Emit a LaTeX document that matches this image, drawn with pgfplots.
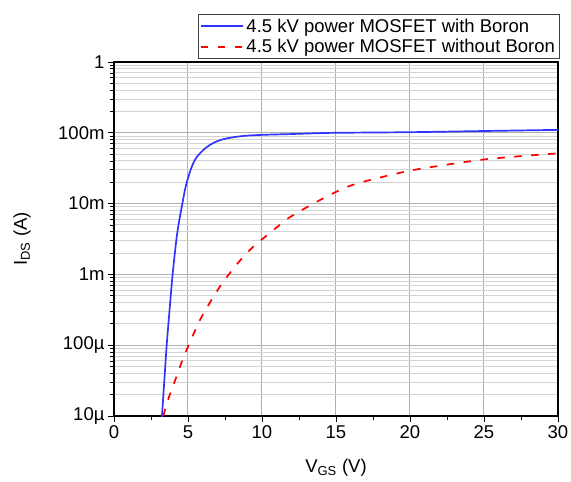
\documentclass[border=0pt]{standalone}
\usepackage{pgfplots}
\pgfplotsset{compat=1.18}
\usepackage{fontspec}
\setmainfont{Liberation Sans}

\definecolor{curveblue}{RGB}{51,51,255}
\definecolor{gridmaj}{RGB}{175,175,175}
\definecolor{gridmin}{RGB}{212,212,212}

\begin{document}
\begin{tikzpicture}
\begin{axis}[
  name=ax,
  scale only axis,
  width=444pt, height=354pt,
  font=\fontsize{18.5}{21}\selectfont,
  ymode=log,
  xmin=0, xmax=30,
  ymin=1e-5, ymax=1,
  xtick={0,5,...,30},
  minor x tick num=1,
  ytick={1e-5,1e-4,1e-3,1e-2,1e-1,1},
  yticklabels={10µ,100µ,1m,10m,100m,1},
  /pgf/number format/assume math mode=true,
  xtick pos=bottom, ytick pos=left,
  tick align=outside,
  major tick length=6pt, minor tick length=3.5pt,
  tick style={black, line width=0.8pt},
  axis line style={black, line width=1.1pt},
  xmajorgrids, ymajorgrids, yminorgrids,
  major grid style={gridmaj, line width=1pt},
  minor grid style={gridmin, line width=1pt},
  xlabel={V\textsubscript{GS} (V)},
  ylabel={I\textsubscript{DS} (A)},
  xlabel style={at={(axis description cs:0.5,-0.145)}, anchor=center},
  ylabel style={at={(axis description cs:-0.207,0.5)}, anchor=center},
  legend cell align=left,
  legend image code/.code={\draw[#1] (0pt,0pt) -- (42pt,0pt);},
  legend style={
    at={(axis description cs:1.003,1.009)}, anchor=south east,
    draw=black!75, line width=0.8pt, inner sep=1pt,
    font=\fontsize{18.5}{21}\selectfont,
    nodes={inner sep=3pt},
    row sep=0pt,
  },
]
% with boron
\addplot[curveblue, line width=1.7pt, smooth] coordinates {
  (3.18,7.5e-6) (3.24,1e-5) (3.40,3.16e-5) (3.56,1e-4) (3.755,3.16e-4)
  (3.96,1e-3) (4.22,3.16e-3) (4.40,5.62e-3) (4.62,1e-2) (4.80,1.585e-2)
  (5.0,2.29e-2) (5.2,3.09e-2) (5.4,3.89e-2) (5.6,4.57e-2) (5.81,5.13e-2)
  (6.1,5.89e-2) (6.49,6.76e-2) (6.9,7.50e-2) (7.39,8.13e-2) (7.9,8.55e-2)
  (8.5,8.91e-2) (9.19,9.18e-2) (10.3,9.40e-2) (11.9,9.59e-2) (13.5,9.84e-2)
  (15,0.1) (20,0.102) (25,0.106) (30,0.110)
};
\addlegendentry{4.5 kV power MOSFET with Boron}
% without boron
\addplot[red, line width=1.7pt, dash pattern=on 7.5pt off 9.5pt, smooth] coordinates {
  (3.33,1.0e-5) (3.7,1.82e-5) (4.23,3.63e-5) (4.57,5.75e-5) (5.02,9.77e-5)
  (5.92,2.51e-4) (7.16,6.76e-4) (7.84,1.05e-3) (8.7,1.74e-3) (9.53,2.60e-3)
  (10.09,3.24e-3) (11.2,5.01e-3) (11.9,6.46e-3) (13.47,1.0e-2) (15.05,1.48e-2)
  (16,0.0180) (17.5,0.0221) (20,0.0292) (22.5,0.0355) (25,0.0420)
  (27.5,0.0468) (30,0.0513)
};
\addlegendentry{4.5 kV power MOSFET without Boron}
\end{axis}
\pgfresetboundingbox
\path[use as bounding box] (ax.south west) ++(-114pt,-66pt) rectangle ++(571pt,482pt);
\end{tikzpicture}
\end{document}
